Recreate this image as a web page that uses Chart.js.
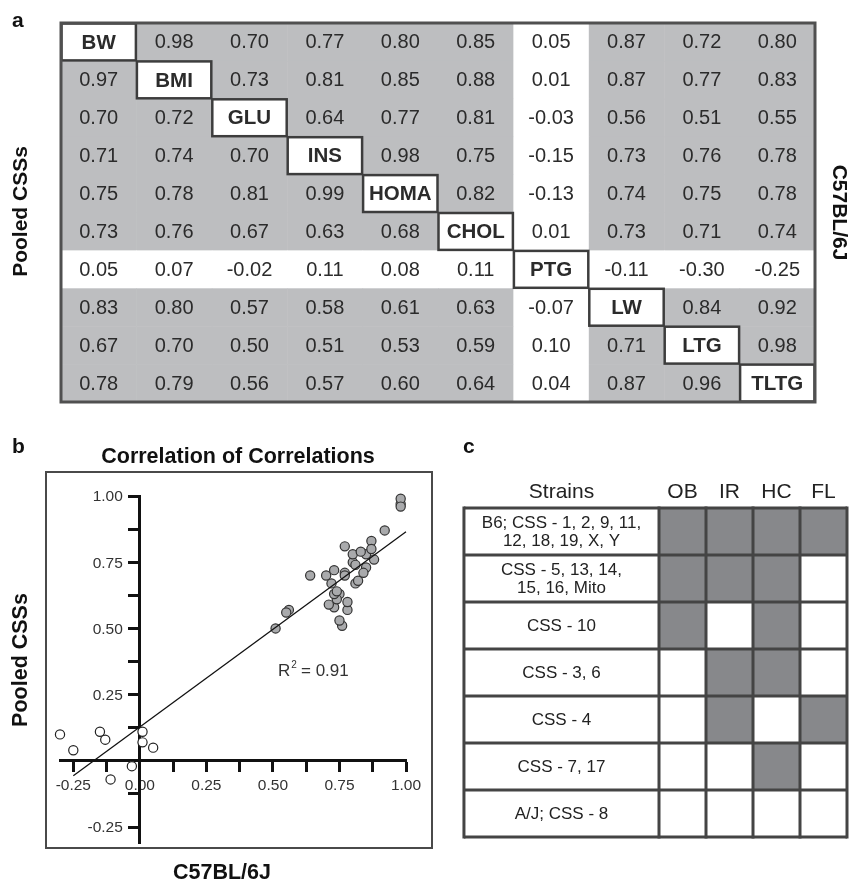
<!DOCTYPE html>
<html lang="en">
<head>
    <meta charset="UTF-8">
    <title>Correlation of correlations</title>
    <script src="https://cdn.jsdelivr.net/npm/chart.js"></script>
    <style>
        body { margin: 0; background: #fff; }
        .wrap { position: relative; width: 854px; height: 881px; }
        canvas { position: absolute; }
    </style>
</head>
<body>
<div class="wrap">
    <canvas id="matrixChart" width="854" height="420" style="left:0;top:0"></canvas>
    <canvas id="scatterChart" width="440" height="461" style="left:0;top:420px"></canvas>
    <canvas id="strainChart" width="414" height="461" style="left:440px;top:420px"></canvas>
</div>
<script>
// ---- panel a: traits and correlations (upper = C57BL/6J, lower = pooled CSSs)
const traits = ['BW', 'BMI', 'GLU', 'INS', 'HOMA', 'CHOL', 'PTG', 'LW', 'LTG', 'TLTG'];
const corr = [
    [null, 0.98, 0.70, 0.77, 0.80, 0.85, 0.05, 0.87, 0.72, 0.80],
    [0.97, null, 0.73, 0.81, 0.85, 0.88, 0.01, 0.87, 0.77, 0.83],
    [0.70, 0.72, null, 0.64, 0.77, 0.81, -0.03, 0.56, 0.51, 0.55],
    [0.71, 0.74, 0.70, null, 0.98, 0.75, -0.15, 0.73, 0.76, 0.78],
    [0.75, 0.78, 0.81, 0.99, null, 0.82, -0.13, 0.74, 0.75, 0.78],
    [0.73, 0.76, 0.67, 0.63, 0.68, null, 0.01, 0.73, 0.71, 0.74],
    [0.05, 0.07, -0.02, 0.11, 0.08, 0.11, null, -0.11, -0.30, -0.25],
    [0.83, 0.80, 0.57, 0.58, 0.61, 0.63, -0.07, null, 0.84, 0.92],
    [0.67, 0.70, 0.50, 0.51, 0.53, 0.59, 0.10, 0.71, null, 0.98],
    [0.78, 0.79, 0.56, 0.57, 0.60, 0.64, 0.04, 0.87, 0.96, null]
];
const oddTrait = 'PTG'; // row/column left white, open circles in panel b

// ---- panel b: fitted line
const fitSlope = 0.737;
const fitIntercept = 0.128;
const fitRange = [-0.25, 1.0];
const rSquared = '0.91';
const axisTicks = [-0.25, 0.00, 0.25, 0.50, 0.75, 1.00];

// ---- panel c: strains and phenotypes
const phenotypes = ['OB', 'IR', 'HC', 'FL'];
const strains = [
    'B6; CSS - 1, 2, 9, 11,\n12, 18, 19, X, Y',
    'CSS - 5, 13, 14,\n15, 16, Mito',
    'CSS - 10',
    'CSS - 3, 6',
    'CSS - 4',
    'CSS - 7, 17',
    'A/J; CSS - 8'
];
const hasPhenotype = [
    [1, 1, 1, 1],
    [1, 1, 1, 0],
    [1, 0, 1, 0],
    [0, 1, 1, 0],
    [0, 1, 0, 1],
    [0, 0, 1, 0],
    [0, 0, 0, 0]
];

const FONT = 'Arial, "Liberation Sans", sans-serif';
const INK = '#2b2b2b';

// split correlations into scatter points
const ptgIdx = traits.indexOf(oddTrait);
const filledPts = [], openPts = [];
for (let i = 0; i < traits.length; i++) {
    for (let j = i + 1; j < traits.length; j++) {
        const p = { x: corr[i][j], y: corr[j][i] };
        if (i === ptgIdx || j === ptgIdx) openPts.push(p); else filledPts.push(p);
    }
}

function rotText(ctx, text, x, y, angle) {
    ctx.save();
    ctx.translate(x, y);
    ctx.rotate(angle);
    ctx.fillText(text, 0, 0);
    ctx.restore();
}

// panel a: matrix drawn on the chart's own scales
const matrixPlugin = {
    id: 'matrix',
    afterDraw(chart) {
        const ctx = chart.ctx, xs = chart.scales.x, ys = chart.scales.y;
        const n = traits.length;
        ctx.save();
        for (let r = 0; r < n; r++) {
            for (let c = 0; c < n; c++) {
                const x0 = xs.getPixelForValue(c), x1 = xs.getPixelForValue(c + 1);
                const y0 = ys.getPixelForValue(r), y1 = ys.getPixelForValue(r + 1);
                const white = r === c || r === ptgIdx || c === ptgIdx;
                ctx.fillStyle = white ? '#ffffff' : '#bdbec0';
                ctx.fillRect(x0, y0, x1 - x0 + 0.5, y1 - y0 + 0.5);
            }
        }
        ctx.textAlign = 'center';
        ctx.textBaseline = 'middle';
        for (let r = 0; r < n; r++) {
            for (let c = 0; c < n; c++) {
                const cx = xs.getPixelForValue(c + 0.5), cy = ys.getPixelForValue(r + 0.5);
                ctx.fillStyle = INK;
                if (r === c) {
                    ctx.font = 'bold 20.5px ' + FONT;
                    ctx.fillText(traits[r], cx, cy + 1);
                } else {
                    ctx.font = '20px ' + FONT;
                    ctx.fillText(corr[r][c].toFixed(2), cx, cy + 1);
                }
            }
        }
        // boxes around the diagonal
        ctx.strokeStyle = '#3d3d3d';
        ctx.lineWidth = 2.5;
        for (let k = 0; k < n; k++) {
            const x0 = xs.getPixelForValue(k), x1 = xs.getPixelForValue(k + 1);
            const y0 = ys.getPixelForValue(k), y1 = ys.getPixelForValue(k + 1);
            ctx.strokeRect(x0 + 0.5, y0 + 0.5, x1 - x0 - 1, y1 - y0 - 1);
        }
        const a = chart.chartArea;
        ctx.strokeStyle = '#505050';
        ctx.lineWidth = 3;
        ctx.strokeRect(a.left, a.top, a.right - a.left, a.bottom - a.top);

        ctx.fillStyle = '#111';
        ctx.font = 'bold 21px ' + FONT;
        ctx.textAlign = 'left';
        ctx.textBaseline = 'alphabetic';
        ctx.fillText('a', 12, 27);
        ctx.textAlign = 'center';
        ctx.textBaseline = 'middle';
        ctx.font = 'bold 21px ' + FONT;
        const midY = (a.top + a.bottom) / 2;
        rotText(ctx, 'Pooled CSSs', 21, midY - 1, -Math.PI / 2);
        rotText(ctx, 'C57BL/6J', 839, midY, Math.PI / 2);
        ctx.restore();
    }
};

new Chart(document.getElementById('matrixChart'), {
    type: 'scatter',
    data: { datasets: [] },
    options: {
        responsive: false,
        animation: false,
        layout: { padding: { left: 61, top: 23, right: 39, bottom: 18 } },
        scales: {
            x: { type: 'linear', min: 0, max: traits.length, display: false },
            y: { type: 'linear', min: 0, max: traits.length, reverse: true, display: false }
        },
        plugins: { legend: { display: false }, tooltip: { enabled: false } }
    },
    plugins: [matrixPlugin]
});

// panel b: scatter with crossing axes
const scatterDeco = {
    id: 'scatterDeco',
    beforeDraw(chart) {
        const ctx = chart.ctx;
        ctx.save();
        ctx.strokeStyle = '#4a4a4a';
        ctx.lineWidth = 2;
        ctx.strokeRect(46, 52, 386, 376);
        ctx.restore();
    },
    afterDraw(chart) {
        const ctx = chart.ctx, ys = chart.scales.y, xs = chart.scales.x;
        ctx.save();
        // y tick labels, placed left of the tick marks
        const axisX = xs.getPixelForValue(0);
        ctx.fillStyle = '#333';
        ctx.font = '15.5px ' + FONT;
        ctx.textAlign = 'right';
        ctx.textBaseline = 'middle';
        ys.ticks.forEach(t => {
            if (isMajor(t.value) && Math.abs(t.value) > 1e-6) {
                ctx.fillText(t.value.toFixed(2), axisX - 17, ys.getPixelForValue(t.value) + 1);
            }
        });

        ctx.fillStyle = '#111';
        ctx.font = 'bold 21px ' + FONT;
        ctx.textAlign = 'left';
        ctx.textBaseline = 'alphabetic';
        ctx.fillText('b', 12, 33);
        ctx.textAlign = 'center';
        ctx.font = 'bold 21.5px ' + FONT;
        ctx.fillText('Correlation of Correlations', 238, 43);
        ctx.fillText('C57BL/6J', 222, 459);
        ctx.textBaseline = 'middle';
        rotText(ctx, 'Pooled CSSs', 21, 240, -Math.PI / 2);
        // R squared
        ctx.fillStyle = '#333';
        ctx.font = '17px ' + FONT;
        ctx.textAlign = 'left';
        ctx.textBaseline = 'alphabetic';
        ctx.fillText('R', 278, 256);
        const rw = ctx.measureText('R').width;
        ctx.font = '10px ' + FONT;
        ctx.fillText('2', 278 + rw + 1, 248);
        ctx.font = '17px ' + FONT;
        ctx.fillText(' = ' + rSquared, 278 + rw + 6, 256);
        ctx.restore();
    }
};

const isMajor = v => axisTicks.some(t => Math.abs(t - v) < 1e-6);

new Chart(document.getElementById('scatterChart'), {
    type: 'scatter',
    data: {
        datasets: [
            {
                data: fitRange.map(x => ({ x: x, y: fitIntercept + fitSlope * x })),
                showLine: true,
                borderColor: '#111',
                borderWidth: 1.3,
                pointRadius: 0,
                clip: false
            },
            {
                data: filledPts,
                backgroundColor: '#a9aaac',
                borderColor: '#333',
                borderWidth: 1.2,
                pointRadius: 4.6,
                clip: false
            },
            {
                data: openPts,
                backgroundColor: '#ffffff',
                borderColor: '#222',
                borderWidth: 1.2,
                pointRadius: 4.6,
                clip: false
            }
        ]
    },
    options: {
        responsive: false,
        animation: false,
        layout: { padding: { left: 60, top: 76, right: 34, bottom: 38 } },
        scales: {
            x: {
                type: 'linear', min: -0.30, max: 1.00,
                position: { y: 0 },
                border: { display: true, width: 3, color: '#111' },
                grid: { drawOnChartArea: false, drawTicks: true, tickLength: 10, tickWidth: 3, tickColor: '#111' },
                ticks: {
                    stepSize: 0.125, includeBounds: false, autoSkip: false, maxRotation: 0, maxTicksLimit: 30,
                    padding: 6, color: '#333', font: { family: FONT, size: 15.5 },
                    callback: v => isMajor(v) ? v.toFixed(2) : ''
                }
            },
            y: {
                type: 'linear', min: -0.31, max: 1.00,
                position: { x: 0 },
                border: { display: true, width: 3, color: '#111' },
                grid: { drawOnChartArea: false, drawTicks: true, tickLength: 10, tickWidth: 3, tickColor: '#111' },
                ticks: {
                    stepSize: 0.125, includeBounds: false, autoSkip: false, maxTicksLimit: 30,
                    color: 'rgba(0,0,0,0)', font: { family: FONT, size: 15.5 }
                }
            }
        },
        plugins: { legend: { display: false }, tooltip: { enabled: false } }
    },
    plugins: [scatterDeco]
});

// panel c: strain grid, phenotype columns on the x scale
const strainColSpan = 4.15; // width of the strain column in phenotype-column units
const gridPlugin = {
    id: 'strainGrid',
    afterDraw(chart) {
        const ctx = chart.ctx, xs = chart.scales.x, ys = chart.scales.y;
        const left = xs.getPixelForValue(-strainColSpan);
        ctx.save();
        // fills
        hasPhenotype.forEach((row, r) => {
            const y0 = ys.getPixelForValue(r), y1 = ys.getPixelForValue(r + 1);
            ctx.fillStyle = '#fff';
            ctx.fillRect(left, y0, xs.getPixelForValue(0) - left, y1 - y0);
            row.forEach((v, c) => {
                const x0 = xs.getPixelForValue(c), x1 = xs.getPixelForValue(c + 1);
                ctx.fillStyle = v ? '#87888b' : '#ffffff';
                ctx.fillRect(x0, y0, x1 - x0, y1 - y0);
            });
        });
        // grid lines
        ctx.strokeStyle = '#444';
        ctx.lineWidth = 3;
        const top = ys.getPixelForValue(0), bottom = ys.getPixelForValue(strains.length);
        const right = xs.getPixelForValue(phenotypes.length);
        for (let r = 0; r <= strains.length; r++) {
            const y = ys.getPixelForValue(r);
            ctx.beginPath(); ctx.moveTo(left, y); ctx.lineTo(right, y); ctx.stroke();
        }
        const vx = [left];
        for (let c = 0; c <= phenotypes.length; c++) vx.push(xs.getPixelForValue(c));
        vx.forEach(x => { ctx.beginPath(); ctx.moveTo(x, top - 1.5); ctx.lineTo(x, bottom + 1.5); ctx.stroke(); });
        // strain labels
        ctx.fillStyle = '#222';
        ctx.textAlign = 'center';
        ctx.textBaseline = 'middle';
        ctx.font = '17px ' + FONT;
        const midX = (left + xs.getPixelForValue(0)) / 2;
        strains.forEach((s, r) => {
            const lines = s.split('\n');
            const cy = ys.getPixelForValue(r + 0.5);
            lines.forEach((ln, k) => ctx.fillText(ln, midX, cy + (k - (lines.length - 1) / 2) * 18 + 1));
        });
        // header
        ctx.font = '21px ' + FONT;
        ctx.fillStyle = '#222';
        const hy = top - 16;
        ctx.fillText('Strains', midX, hy);
        phenotypes.forEach((p, c) => ctx.fillText(p, xs.getPixelForValue(c + 0.5), hy));
        ctx.fillStyle = '#111';
        ctx.font = 'bold 21px ' + FONT;
        ctx.textAlign = 'left';
        ctx.textBaseline = 'alphabetic';
        ctx.fillText('c', 23, 33);
        ctx.restore();
    }
};

new Chart(document.getElementById('strainChart'), {
    type: 'scatter',
    data: { datasets: [] },
    options: {
        responsive: false,
        animation: false,
        layout: { padding: { left: 219, top: 88, right: 7, bottom: 44 } },
        scales: {
            x: { type: 'linear', min: 0, max: phenotypes.length, display: false },
            y: { type: 'linear', min: 0, max: strains.length, reverse: true, display: false }
        },
        plugins: { legend: { display: false }, tooltip: { enabled: false } }
    },
    plugins: [gridPlugin]
});
</script>
</body>
</html>
